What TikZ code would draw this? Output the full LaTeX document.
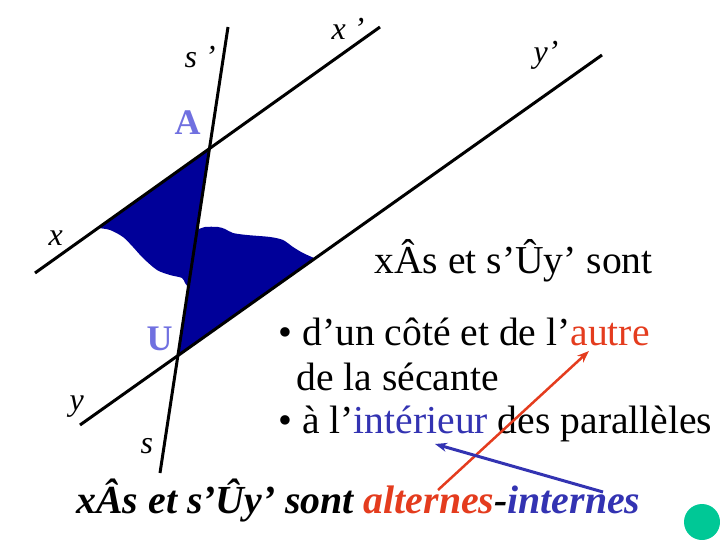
\documentclass[tikz,border=0pt]{standalone}
\usepackage{fontspec}
\setmainfont{Liberation Serif}
\usetikzlibrary{arrows.meta}
\definecolor{navy}{RGB}{0,0,153}
\definecolor{lavande}{RGB}{112,112,224}
\definecolor{rouge}{RGB}{228,60,30}
\definecolor{bleu}{RGB}{51,51,178}
\definecolor{vert}{RGB}{0,200,150}

\begin{document}
\begin{tikzpicture}[x=1pt,y=-1pt,line width=3pt,
  zone/.style={fill=navy},
  fleche/.style={-{Stealth[length=12pt,width=9pt]}},
  lettre/.style={inner sep=0pt,anchor=base west,font=\fontsize{32}{32}\selectfont\itshape},
  sommet/.style={inner sep=0pt,anchor=base west,text=lavande,font=\fontsize{36}{36}\selectfont\bfseries},
  texte/.style={inner sep=0pt,anchor=base west,font=\fontsize{39.6}{40}\selectfont},
  bilan/.style={inner sep=0pt,anchor=base west,font=\fontsize{39.8}{40}\selectfont\bfseries\itshape}]
  \useasboundingbox (0,0) rectangle (720,540);

  \coordinate (x)  at (35,273);
  \coordinate (xp) at (380,27);
  \coordinate (y)  at (80,425);
  \coordinate (yp) at (602,55);
  \coordinate (s)  at (160,473);
  \coordinate (sp) at (228,27);
  \coordinate (A) at (intersection of x--xp and s--sp);
  \coordinate (U) at (intersection of y--yp and s--sp);

  \fill[zone] (A) -- plot[smooth] coordinates {(98,228) (110,230) (123,237) (133,247) (143,258)
    (157,270) (170,275) (182,278) (185,283) (188,287)} -- cycle;
  \fill[zone] (U) -- plot[smooth] coordinates {(197,230) (205,227) (218,227) (225,229) (233,233)
    (247,235) (270,237) (283,240) (293,247) (303,253) (314,258)} -- cycle;

  \draw (x) -- (xp);
  \draw (y) -- (yp);
  \draw (s) -- (sp);

  \node[lettre] (ls)  at (183,68)  {s ’};
  \node[lettre] (lx)  at (330,40)  {x ’};
  \node[lettre] (ly)  at (532,63)  {y’};
  \node[lettre] (lx0) at (47,245)  {x};
  \node[lettre] (ly0) at (68,410)  {y};
  \node[lettre] (ls0) at (139,453) {s};
  \node[sommet] (lA)  at (173,135) {A};
  \node[sommet] (lU)  at (145,350) {U};

  \node[texte] (titre)  at (373,273) {xÂs et s’Ûy’ sont};
  \node[texte] (puce1)  at (277,345) {• d’un côté et de l’\textcolor{rouge}{autre}};
  \node[texte] (suite)  at (295,390) {de la sécante};
  \node[texte] (puce2)  at (277,433) {• à l’\textcolor{bleu}{intérieur} des parallèles};
  \node[bilan] (phrase) at (75,513)  {xÂs et s’Ûy’ sont \textcolor{rouge}{alternes}-\textcolor{bleu}{internes}};

  \coordinate (r0) at (438,490);
  \coordinate (r1) at (589,351);
  \coordinate (b0) at (603,492);
  \coordinate (b1) at (435,444);
  \draw[rouge,line width=2.5pt,fleche] (r0) -- (r1);
  \draw[bleu,line width=3pt,fleche] (b0) -- (b1);

  \node[circle,fill=vert,minimum size=36pt,inner sep=0pt] (rond) at (702,522) {};
\end{tikzpicture}
\end{document}
